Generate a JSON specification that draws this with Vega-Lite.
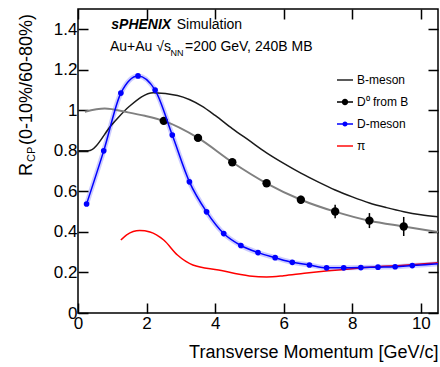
{
  "$schema": "https://vega.github.io/schema/vega-lite/v6.json",
  "width": 360,
  "height": 304,
  "autosize": {"type": "none"},
  "padding": {"left": 78, "top": 9, "right": 2, "bottom": 54},
  "config": {
    "view": {"stroke": "#000", "strokeWidth": 1.5},
    "font": "Liberation Sans"
  },
  "datasets": {
    "bmeson": [
      {"x": 0, "y": 0.80}, {"x": 0.3, "y": 0.80}, {"x": 1.0, "y": 0.932}, {"x": 1.5, "y": 1.02},
      {"x": 2.2, "y": 1.087}, {"x": 2.9, "y": 1.073}, {"x": 3.6, "y": 1.022}, {"x": 4.0, "y": 0.975},
      {"x": 4.5, "y": 0.91}, {"x": 5.0, "y": 0.85}, {"x": 5.5, "y": 0.79}, {"x": 6.0, "y": 0.738},
      {"x": 6.5, "y": 0.69}, {"x": 7.0, "y": 0.647}, {"x": 7.5, "y": 0.607}, {"x": 8.0, "y": 0.573},
      {"x": 8.5, "y": 0.543}, {"x": 9.0, "y": 0.52}, {"x": 9.5, "y": 0.50}, {"x": 10.0, "y": 0.485},
      {"x": 10.5, "y": 0.475}
    ],
    "d0line": [
      {"x": 0.2, "y": 0.993}, {"x": 0.78, "y": 1.009}, {"x": 1.46, "y": 0.99}, {"x": 1.95, "y": 0.973},
      {"x": 2.5, "y": 0.948}, {"x": 3.5, "y": 0.864}, {"x": 4.5, "y": 0.744}, {"x": 5.5, "y": 0.64},
      {"x": 6.5, "y": 0.559}, {"x": 7.5, "y": 0.50}, {"x": 8.5, "y": 0.455}, {"x": 9.5, "y": 0.427},
      {"x": 10.5, "y": 0.40}
    ],
    "d0pts": [
      {"series": "D⁰ from B", "x": 2.5, "y": 0.948, "err": 0.008},
      {"series": "D⁰ from B", "x": 3.5, "y": 0.864, "err": 0.01},
      {"series": "D⁰ from B", "x": 4.5, "y": 0.744, "err": 0.012},
      {"series": "D⁰ from B", "x": 5.5, "y": 0.64, "err": 0.015},
      {"series": "D⁰ from B", "x": 6.5, "y": 0.559, "err": 0.02},
      {"series": "D⁰ from B", "x": 7.5, "y": 0.501, "err": 0.033},
      {"series": "D⁰ from B", "x": 8.5, "y": 0.456, "err": 0.037},
      {"series": "D⁰ from B", "x": 9.5, "y": 0.427, "err": 0.047}
    ],
    "dline": [
      {"x": 0.25, "y": 0.538}, {"x": 0.75, "y": 0.80}, {"x": 1.25, "y": 1.085}, {"x": 1.75, "y": 1.17},
      {"x": 2.25, "y": 1.10}, {"x": 2.75, "y": 0.878}, {"x": 3.25, "y": 0.647}, {"x": 3.75, "y": 0.499},
      {"x": 4.25, "y": 0.392}, {"x": 4.75, "y": 0.333}, {"x": 5.25, "y": 0.298}, {"x": 5.75, "y": 0.273},
      {"x": 6.25, "y": 0.25}, {"x": 6.75, "y": 0.237}, {"x": 7.25, "y": 0.223}, {"x": 7.75, "y": 0.223},
      {"x": 8.25, "y": 0.224}, {"x": 8.75, "y": 0.226}, {"x": 9.25, "y": 0.228}, {"x": 9.75, "y": 0.234},
      {"x": 10.5, "y": 0.243}
    ],
    "dpts": [
      {"series": "D-meson", "x": 0.25, "y": 0.538}, {"series": "D-meson", "x": 0.75, "y": 0.80},
      {"series": "D-meson", "x": 1.25, "y": 1.085}, {"series": "D-meson", "x": 1.75, "y": 1.17},
      {"series": "D-meson", "x": 2.25, "y": 1.10}, {"series": "D-meson", "x": 2.75, "y": 0.878},
      {"series": "D-meson", "x": 3.25, "y": 0.647}, {"series": "D-meson", "x": 3.75, "y": 0.499},
      {"series": "D-meson", "x": 4.25, "y": 0.392}, {"series": "D-meson", "x": 4.75, "y": 0.333},
      {"series": "D-meson", "x": 5.25, "y": 0.298}, {"series": "D-meson", "x": 5.75, "y": 0.273},
      {"series": "D-meson", "x": 6.25, "y": 0.25}, {"series": "D-meson", "x": 6.75, "y": 0.237},
      {"series": "D-meson", "x": 7.25, "y": 0.223}, {"series": "D-meson", "x": 7.75, "y": 0.223},
      {"series": "D-meson", "x": 8.25, "y": 0.224}, {"series": "D-meson", "x": 8.75, "y": 0.226},
      {"series": "D-meson", "x": 9.25, "y": 0.228}, {"series": "D-meson", "x": 9.75, "y": 0.234}
    ],
    "pion": [
      {"x": 1.25, "y": 0.36}, {"x": 1.42, "y": 0.386}, {"x": 1.8, "y": 0.407}, {"x": 2.1, "y": 0.40},
      {"x": 2.5, "y": 0.36}, {"x": 2.9, "y": 0.286}, {"x": 3.35, "y": 0.237}, {"x": 4.1, "y": 0.212},
      {"x": 5.0, "y": 0.183}, {"x": 5.5, "y": 0.178}, {"x": 6.0, "y": 0.184}, {"x": 6.6, "y": 0.196},
      {"x": 7.3, "y": 0.208}, {"x": 8.5, "y": 0.226}, {"x": 9.5, "y": 0.236}, {"x": 10.5, "y": 0.248}
    ],
    "legend": [
      {"series": "B-meson"}, {"series": "D⁰ from B"}, {"series": "D-meson"}, {"series": "π"}
    ]
  },
  "layer": [
    {
      "data": {"name": "pion"},
      "mark": {"type": "line", "color": "#ff0000", "strokeWidth": 1.5, "interpolate": "monotone"},
      "encoding": {
        "x": {
          "field": "x", "type": "quantitative",
          "scale": {"domain": [0, 10.5], "nice": false, "zero": false},
          "axis": {
            "orient": "bottom", "domain": false, "ticks": false,
            "values": [0,0.5,1,1.5,2,2.5,3,3.5,4,4.5,5,5.5,6,6.5,7,7.5,8,8.5,9,9.5,10],
            "grid": true, "gridColor": "#000", "gridWidth": 1.5, "gridOpacity": 1,
            "gridDash": {"condition": {"test": "datum.value % 2 === 0", "value": [10, 284, 10]}, "value": [5, 294, 5]},
            "labelExpr": "datum.value % 2 === 0 ? format(datum.value, 'd') : ''",
            "labelFontSize": 17, "labelColor": "#000", "labelPadding": 2,
            "labelFlush": false, "labelOverlap": false,
            "title": "Transverse Momentum [GeV/c]",
            "titleFontSize": 18, "titleFontWeight": "normal", "titleColor": "#000",
            "titleAnchor": "end", "titleAlign": "right", "titleX": 360, "titleY": 44,
            "titleBaseline": "alphabetic"
          }
        },
        "y": {
          "field": "y", "type": "quantitative",
          "scale": {"domain": [0, 1.5], "nice": false},
          "axis": {
            "orient": "left", "domain": false, "ticks": false,
            "values": [0,0.05,0.1,0.15,0.2,0.25,0.3,0.35,0.4,0.45,0.5,0.55,0.6,0.65,0.7,0.75,0.8,0.85,0.9,0.95,1,1.05,1.1,1.15,1.2,1.25,1.3,1.35,1.4,1.45],
            "grid": true, "gridColor": "#000", "gridWidth": 1.5, "gridOpacity": 1,
            "gridDash": {"condition": {"test": "abs(datum.value*5 - round(datum.value*5)) < 0.001", "value": [10, 340, 10]}, "value": [5, 350, 5]},
            "labelExpr": "abs(datum.value*5 - round(datum.value*5)) < 0.001 ? format(datum.value, '~g') : ''",
            "labelFontSize": 17, "labelColor": "#000", "labelPadding": 1,
            "labelFlush": false, "labelOverlap": false,
            "title": null
          }
        }
      }
    },
    {
      "data": {"name": "dline"},
      "mark": {"type": "line", "color": "#0000ff", "strokeWidth": 5, "opacity": 0.2, "interpolate": "monotone"},
      "encoding": {
        "x": {"field": "x", "type": "quantitative", "scale": {"domain": [0, 10.5], "nice": false, "zero": false}},
        "y": {"field": "y", "type": "quantitative", "scale": {"domain": [0, 1.5], "nice": false}}
      }
    },
    {
      "data": {"name": "bmeson"},
      "mark": {"type": "line", "color": "#1a1a1a", "strokeWidth": 1.5, "interpolate": "monotone"},
      "encoding": {
        "x": {"field": "x", "type": "quantitative", "scale": {"domain": [0, 10.5], "nice": false, "zero": false}},
        "y": {"field": "y", "type": "quantitative", "scale": {"domain": [0, 1.5], "nice": false}}
      }
    },
    {
      "data": {"name": "d0line"},
      "mark": {"type": "line", "color": "#808080", "strokeWidth": 2, "interpolate": "monotone"},
      "encoding": {
        "x": {"field": "x", "type": "quantitative", "scale": {"domain": [0, 10.5], "nice": false, "zero": false}},
        "y": {"field": "y", "type": "quantitative", "scale": {"domain": [0, 1.5], "nice": false}}
      }
    },
    {
      "data": {"name": "d0pts"},
      "mark": {"type": "errorbar", "color": "#000", "thickness": 1.5},
      "encoding": {
        "x": {"field": "x", "type": "quantitative", "scale": {"domain": [0, 10.5], "nice": false, "zero": false}},
        "y": {"field": "y", "type": "quantitative", "scale": {"domain": [0, 1.5], "nice": false}},
        "yError": {"field": "err"}
      }
    },
    {
      "data": {"name": "d0pts"},
      "mark": {"type": "point", "filled": true, "size": 70, "opacity": 1, "color": "#000"},
      "encoding": {
        "x": {"field": "x", "type": "quantitative", "scale": {"domain": [0, 10.5], "nice": false, "zero": false}},
        "y": {"field": "y", "type": "quantitative", "scale": {"domain": [0, 1.5], "nice": false}}
      }
    },
    {
      "data": {"name": "dline"},
      "mark": {"type": "line", "color": "#0000ff", "strokeWidth": 1.5, "interpolate": "monotone"},
      "encoding": {
        "x": {"field": "x", "type": "quantitative", "scale": {"domain": [0, 10.5], "nice": false, "zero": false}},
        "y": {"field": "y", "type": "quantitative", "scale": {"domain": [0, 1.5], "nice": false}}
      }
    },
    {
      "data": {"name": "dpts"},
      "mark": {"type": "point", "filled": true, "size": 32, "opacity": 1, "color": "#0000ff"},
      "encoding": {
        "x": {"field": "x", "type": "quantitative", "scale": {"domain": [0, 10.5], "nice": false, "zero": false}},
        "y": {"field": "y", "type": "quantitative", "scale": {"domain": [0, 1.5], "nice": false}}
      }
    },
    {
      "data": {"name": "legend"},
      "mark": {"type": "point", "filled": true, "opacity": 1, "size": 256, "clip": true, "strokeWidth": 0},
      "encoding": {
        "x": {"datum": 20, "type": "quantitative", "scale": {"domain": [0, 10.5], "nice": false, "zero": false}},
        "y": {"datum": 0.5, "type": "quantitative", "scale": {"domain": [0, 1.5], "nice": false}},
        "color": {
          "field": "series", "type": "nominal",
          "scale": {"domain": ["B-meson", "D⁰ from B", "D-meson", "π"], "range": ["#1a1a1a", "#000000", "#0000ff", "#ff0000"]},
          "legend": {
            "orient": "none", "legendX": 259, "legendY": 63, "title": null,
            "symbolSize": 256, "symbolStrokeWidth": 0, "symbolOpacity": 1,
            "labelFontSize": 12, "labelColor": "#000", "labelOffset": 4,
            "rowPadding": 8, "padding": 0, "offset": 0
          }
        },
        "shape": {
          "field": "series", "type": "nominal",
          "scale": {
            "domain": ["B-meson", "D⁰ from B", "D-meson", "π"],
            "range": [
              "M-1,-0.09H1V0.09H-1Z",
              "M-1,-0.09H1V0.09H-1Z M0.4,0A0.4,0.4 0 1,1 -0.4,0A0.4,0.4 0 1,1 0.4,0Z",
              "M-1,-0.09H1V0.09H-1Z M0.32,0A0.32,0.32 0 1,1 -0.32,0A0.32,0.32 0 1,1 0.32,0Z",
              "M-1,-0.09H1V0.09H-1Z"
            ]
          },
          "legend": {
            "orient": "none", "legendX": 259, "legendY": 63, "title": null,
            "symbolSize": 256, "symbolStrokeWidth": 0, "symbolOpacity": 1,
            "labelFontSize": 12, "labelColor": "#000", "labelOffset": 4,
            "rowPadding": 8, "padding": 0, "offset": 0
          }
        }
      }
    },
    {
      "data": {"values": [{}]},
      "mark": {"type": "text", "text": "sPHENIX", "font": "Liberation Sans", "fontSize": 14, "fontWeight": "bold", "fontStyle": "italic", "align": "left", "baseline": "middle", "color": "#000"},
      "encoding": {
        "x": {"datum": 0.97, "type": "quantitative", "scale": {"domain": [0, 10.5], "nice": false, "zero": false}},
        "y": {"datum": 1.42, "type": "quantitative", "scale": {"domain": [0, 1.5], "nice": false}}
      }
    },
    {
      "data": {"values": [{}]},
      "mark": {"type": "text", "text": "Simulation", "font": "Liberation Sans", "fontSize": 14, "align": "left", "baseline": "middle", "color": "#000"},
      "encoding": {
        "x": {"datum": 2.88, "type": "quantitative", "scale": {"domain": [0, 10.5], "nice": false, "zero": false}},
        "y": {"datum": 1.42, "type": "quantitative", "scale": {"domain": [0, 1.5], "nice": false}}
      }
    },
    {
      "data": {"values": [{}]},
      "mark": {"type": "text", "text": "Au+Au √s", "font": "Liberation Sans", "fontSize": 14, "align": "left", "baseline": "middle", "color": "#000"},
      "encoding": {
        "x": {"datum": 0.93, "type": "quantitative", "scale": {"domain": [0, 10.5], "nice": false, "zero": false}},
        "y": {"datum": 1.312, "type": "quantitative", "scale": {"domain": [0, 1.5], "nice": false}}
      }
    },
    {
      "data": {"values": [{}]},
      "mark": {"type": "text", "text": "NN", "font": "Liberation Sans", "fontSize": 9, "align": "left", "baseline": "middle", "color": "#000"},
      "encoding": {
        "x": {"datum": 2.7, "type": "quantitative", "scale": {"domain": [0, 10.5], "nice": false, "zero": false}},
        "y": {"datum": 1.283, "type": "quantitative", "scale": {"domain": [0, 1.5], "nice": false}}
      }
    },
    {
      "data": {"values": [{}]},
      "mark": {"type": "text", "text": "=200 GeV, 240B MB", "font": "Liberation Sans", "fontSize": 14, "align": "left", "baseline": "middle", "color": "#000"},
      "encoding": {
        "x": {"datum": 3.12, "type": "quantitative", "scale": {"domain": [0, 10.5], "nice": false, "zero": false}},
        "y": {"datum": 1.312, "type": "quantitative", "scale": {"domain": [0, 1.5], "nice": false}}
      }
    },
    {
      "data": {"values": [{}]},
      "mark": {"type": "text", "text": "R", "font": "Liberation Sans", "fontSize": 18, "angle": 270, "align": "left", "baseline": "alphabetic", "color": "#000"},
      "encoding": {
        "x": {"datum": -1.342, "type": "quantitative", "scale": {"domain": [0, 10.5], "nice": false, "zero": false}},
        "y": {"datum": 0.676, "type": "quantitative", "scale": {"domain": [0, 1.5], "nice": false}}
      }
    },
    {
      "data": {"values": [{}]},
      "mark": {"type": "text", "text": "CP", "font": "Liberation Sans", "fontSize": 11, "angle": 270, "align": "left", "baseline": "alphabetic", "color": "#000"},
      "encoding": {
        "x": {"datum": -1.254, "type": "quantitative", "scale": {"domain": [0, 10.5], "nice": false, "zero": false}},
        "y": {"datum": 0.745, "type": "quantitative", "scale": {"domain": [0, 1.5], "nice": false}}
      }
    },
    {
      "data": {"values": [{}]},
      "mark": {"type": "text", "text": "(0-10%/60-80%)", "font": "Liberation Sans", "fontSize": 18, "angle": 270, "align": "left", "baseline": "alphabetic", "color": "#000"},
      "encoding": {
        "x": {"datum": -1.342, "type": "quantitative", "scale": {"domain": [0, 10.5], "nice": false, "zero": false}},
        "y": {"datum": 0.829, "type": "quantitative", "scale": {"domain": [0, 1.5], "nice": false}}
      }
    }
  ]
}
